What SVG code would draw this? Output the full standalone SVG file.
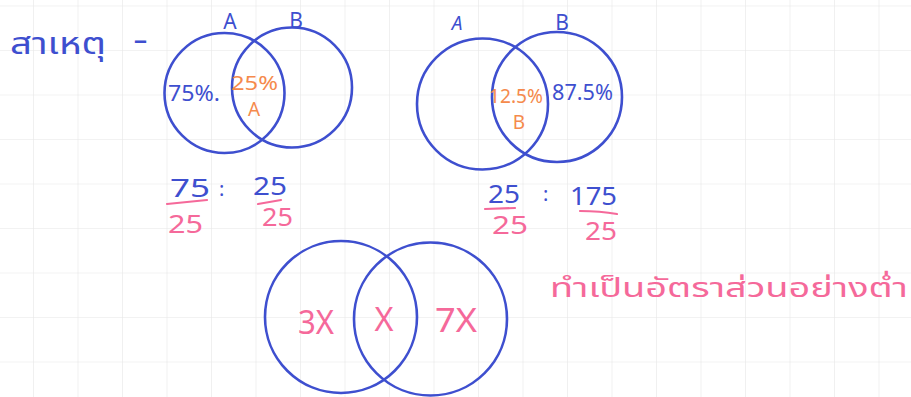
<svg xmlns="http://www.w3.org/2000/svg" width="911" height="397" viewBox="0 0 911 397">
<defs>
<pattern id="grid" x="33" y="5.5" width="44.5" height="44.5" patternUnits="userSpaceOnUse">
<path d="M0 0 H44.5 M0 0 V44.5" fill="none" stroke="#e6e6e6" stroke-width="1.2"/>
</pattern>
<style>
.c{fill:none;stroke:#3e4fcf;stroke-width:2.6}
.t{font-family:"Noto Sans","Noto Sans Thai","DejaVu Sans",sans-serif}
.b{fill:#3e4fcf}
.o{fill:#f58a4c}
.p{fill:#f5699a}
.ln{fill:none;stroke:#f5699a;stroke-width:2.2;stroke-linecap:round}
</style>
</defs>
<rect width="911" height="397" fill="#ffffff"/>
<rect width="911" height="397" fill="url(#grid)"/>
<g id="title">
<text class="t b" x="10" y="54" font-size="30" textLength="96" lengthAdjust="spacingAndGlyphs">สาเหตุ</text>
<text class="t b" x="133" y="50" font-size="30" textLength="15" lengthAdjust="spacingAndGlyphs">-</text>
</g>
<g id="venn1">
<circle id="v1a" class="c" cx="224.5" cy="93" r="60"/>
<circle id="v1b" class="c" cx="292" cy="87.5" r="60"/>
<text class="t b" x="230" y="29" font-size="21" text-anchor="middle">A</text>
<text class="t b" x="296" y="28" font-size="21" text-anchor="middle">B</text>
<text class="t b" x="168" y="101" font-size="21" textLength="52" lengthAdjust="spacingAndGlyphs">75%.</text>
<text class="t o" x="231" y="90" font-size="20" textLength="47" lengthAdjust="spacingAndGlyphs">25%</text>
<text class="t o" x="254" y="116" font-size="19" text-anchor="middle">A</text>
</g>
<g id="venn2">
<circle id="v2a" class="c" cx="482.5" cy="104" r="65.5"/>
<circle id="v2b" class="c" cx="557" cy="97" r="65"/>
<text class="t b" x="457" y="30" font-size="19" text-anchor="middle" font-style="italic">A</text>
<text class="t b" x="562" y="30" font-size="21" text-anchor="middle">B</text>
<text class="t o" x="489" y="103" font-size="19" textLength="54" lengthAdjust="spacingAndGlyphs">12.5%</text>
<text class="t o" x="519" y="129" font-size="19" text-anchor="middle">B</text>
<text class="t b" x="552" y="100" font-size="21" textLength="61" lengthAdjust="spacingAndGlyphs">87.5%</text>
</g>
<g id="ratio1">
<text class="t b" x="170" y="197" font-size="25" textLength="40" lengthAdjust="spacingAndGlyphs">75</text>
<text class="t p" x="168" y="233" font-size="25" textLength="35" lengthAdjust="spacingAndGlyphs">25</text>
<text class="t b" x="219" y="196" font-size="20">:</text>
<text class="t b" x="253" y="195" font-size="25" textLength="34" lengthAdjust="spacingAndGlyphs">25</text>
<text class="t p" x="262" y="226" font-size="25" textLength="31" lengthAdjust="spacingAndGlyphs">25</text>
</g>
<g id="ratio2">
<text class="t b" x="488" y="203" font-size="25" textLength="32" lengthAdjust="spacingAndGlyphs">25</text>
<text class="t p" x="492" y="234" font-size="25" textLength="36" lengthAdjust="spacingAndGlyphs">25</text>
<text class="t b" x="543" y="201" font-size="20">:</text>
<text class="t b" x="570" y="205" font-size="25" textLength="47" lengthAdjust="spacingAndGlyphs">175</text>
<text class="t p" x="585" y="240" font-size="25" textLength="32" lengthAdjust="spacingAndGlyphs">25</text>
</g>
<g id="note">
<text class="t p" x="550" y="297" font-size="26" textLength="358" lengthAdjust="spacingAndGlyphs">ทำเป็นอัตราส่วนอย่างต่ำ</text>
</g>
<g id="venn3">
<circle id="v3a" class="c" cx="341" cy="317" r="76"/>
<circle id="v3b" class="c" cx="430.5" cy="319" r="76.5"/>
<text class="t p" x="298" y="334" font-size="33" textLength="36" lengthAdjust="spacingAndGlyphs">3X</text>
<text class="t p" x="384" y="331" font-size="33" text-anchor="middle" textLength="19" lengthAdjust="spacingAndGlyphs">X</text>
<text class="t p" x="435" y="332" font-size="33" textLength="42" lengthAdjust="spacingAndGlyphs">7X</text>
</g>
<g id="connectors">
<path class="ln" d="M167 204 L207 200"/>
<path class="ln" d="M258 204 L281 200"/>
<path class="ln" d="M485 209 L515 208"/>
<path class="ln" d="M580 211 Q600 211 617 214"/>
</g>
</svg>
